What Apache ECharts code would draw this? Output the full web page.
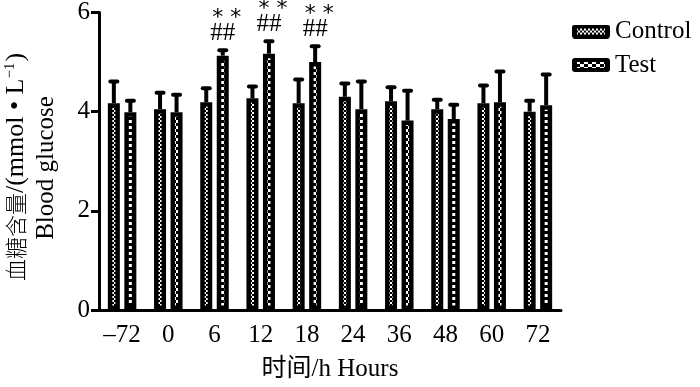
<!DOCTYPE html>
<html>
<head>
<meta charset="utf-8">
<script src="https://cdn.jsdelivr.net/npm/echarts@6/dist/echarts.min.js"></script>
<style>html,body{margin:0;padding:0;background:#fff;overflow:hidden}#c{width:700px;height:387px}</style>
</head>
<body>
<div id="c"></div>
<script>
const categories = ['–72', '0', '6', '12', '18', '24', '36', '48', '60', '72'];
const controlMean  = [4.17, 4.05, 4.19, 4.27, 4.17, 4.30, 4.21, 4.05, 4.17, 4.00];
const controlUpper = [4.61, 4.38, 4.47, 4.51, 4.65, 4.57, 4.49, 4.24, 4.53, 4.22];
const testMean  = [3.99, 3.99, 5.13, 5.17, 5.00, 4.05, 3.82, 3.85, 4.19, 4.13];
const testUpper = [4.22, 4.34, 5.24, 5.42, 5.32, 4.61, 4.42, 4.14, 4.81, 4.75];
const testHash  = ['', '', '##', '##', '##', '', '', '', '', ''];
const testStars = ['', '', '* *', '* *', '* *', '', '', '', '', ''];
const yTicks = [0, 2, 4, 6];

const BAR_W = 12, BAR_GAP = 0.375, BORDER = 4.5;
const OFFSET = BAR_W * (1 + BAR_GAP) / 2;
const FONT = '"Liberation Serif", "Times New Roman", "Noto Sans CJK SC", serif';

function makePattern(w, h, rects) {
  const cv = document.createElement('canvas');
  cv.width = w; cv.height = h;
  const ctx = cv.getContext('2d');
  ctx.fillStyle = '#000'; ctx.fillRect(0, 0, w, h);
  ctx.fillStyle = '#fff';
  rects.forEach(r => ctx.fillRect(r[0], r[1], r[2], r[3]));
  return cv;
}
const controlRects = [[0,0,2,2],[2,2,2,2]];
const testRects = [[0,0,4,3],[4,3,4,3]];
const controlPat = makePattern(4, 4, controlRects);
const testPat = makePattern(8, 6, testRects);

function legendIcon(pat) {
  const cv = document.createElement('canvas');
  cv.width = 38; cv.height = 14;
  const ctx = cv.getContext('2d');
  ctx.fillStyle = '#000';
  ctx.beginPath();
  if (ctx.roundRect) { ctx.roundRect(0, 0, 38, 14, 3); } else { ctx.rect(0, 0, 38, 14); }
  ctx.fill();
  ctx.save();
  ctx.beginPath(); ctx.rect(5, 4, 28, 6); ctx.clip();
  ctx.fillStyle = ctx.createPattern(pat, 'repeat');
  ctx.fillRect(5, 4, 28, 6);
  ctx.restore();
  return 'image://' + cv.toDataURL();
}

function errSeries(name, mean, upper, dir, hash, stars) {
  return {
    type: 'custom', name: name + '_err', z: 5, silent: true,
    data: categories.map((c, i) => [i, mean[i], upper[i]]),
    renderItem: function (params, api) {
      const i = api.value(0);
      const p0 = api.coord([i, api.value(1)]);
      const p1 = api.coord([i, api.value(2)]);
      const x = p0[0] + dir * OFFSET;
      const children = [
        { type: 'line', shape: { x1: x, y1: p0[1], x2: x, y2: p1[1] },
          style: { stroke: '#000', lineWidth: 4 } },
        { type: 'line', shape: { x1: x - 3.5, y1: p1[1], x2: x + 3.5, y2: p1[1] },
          style: { stroke: '#000', lineWidth: 4, lineCap: 'round' } }
      ];
      if (hash && hash[params.dataIndex]) {
        children.push({ type: 'text', style: { text: hash[params.dataIndex], x: x, y: p1[1] - 4,
          align: 'center', verticalAlign: 'bottom', font: '25px ' + FONT, fill: '#000' } });
        children.push({ type: 'text', style: { text: stars[params.dataIndex], x: x + 4, y: p1[1] - 21,
          align: 'center', verticalAlign: 'bottom', font: '22px "DejaVu Sans", sans-serif', fill: '#000' } });
      }
      return { type: 'group', children: children };
    }
  };
}

const chart = echarts.init(document.getElementById('c'), null, { renderer: 'canvas', width: 700, height: 387 });
chart.setOption({
  animation: false,
  backgroundColor: '#fff',
  grid: { left: 99, width: 462, top: 10, height: 305, containLabel: false },
  legend: {
    left: 567, top: 14, orient: 'vertical', itemWidth: 38, itemHeight: 14, itemGap: 8.5,
    data: [{ name: 'Control', icon: legendIcon(controlPat) }, { name: 'Test', icon: legendIcon(testPat) }],
    textStyle: { fontFamily: FONT, fontSize: 25, color: '#000' }
  },
  xAxis: {
    type: 'category', data: categories,
    name: '时间/h Hours', nameLocation: 'middle', nameGap: 47,
    nameTextStyle: { fontFamily: FONT, fontSize: 25, color: '#000' },
    axisLine: { lineStyle: { color: '#000', width: 3 } },
    axisTick: { alignWithLabel: true, length: 8, lineStyle: { color: '#000', width: 3 } },
    axisLabel: { interval: 0, fontFamily: FONT, fontSize: 25, color: '#000', margin: 13 }
  },
  yAxis: {
    type: 'value', min: yTicks[0], max: yTicks[yTicks.length - 1], interval: 2,
    axisLine: { show: true, lineStyle: { color: '#000', width: 3 } },
    axisTick: { show: true, length: 8, lineStyle: { color: '#000', width: 3 } },
    splitLine: { show: false },
    axisLabel: { fontFamily: FONT, fontSize: 25, color: '#000', margin: 9 }
  },
  graphic: [
    { type: 'text', x: 16, y: 167, rotation: Math.PI / 2,
      style: { text: '{cn|血糖含量}{en|/(mmol • L}{sup|−1}{en|)}', align: 'center', verticalAlign: 'middle',
        rich: {
          cn: { fontFamily: '"Noto Sans CJK SC", sans-serif', fontSize: 22, fill: '#000', fontWeight: 300 },
          en: { fontFamily: FONT, fontSize: 26, fill: '#000' },
          sup: { fontFamily: FONT, fontSize: 15, fill: '#000', verticalAlign: 'top', padding: [0, 1, 8, 0] }
        } } },
    { type: 'text', x: 46, y: 168, rotation: Math.PI / 2,
      style: { text: 'Blood glucose', font: '25px ' + FONT, fill: '#000', align: 'center', verticalAlign: 'middle' } }
  ],
  series: [
    { name: 'Control', type: 'bar', data: controlMean, barWidth: BAR_W, barGap: (BAR_GAP * 100) + '%',
      itemStyle: { color: { image: controlPat, repeat: 'repeat' }, borderColor: '#000', borderWidth: BORDER } },
    { name: 'Test', type: 'bar', data: testMean, barWidth: BAR_W,
      itemStyle: { color: { image: testPat, repeat: 'repeat' }, borderColor: '#000', borderWidth: BORDER } },
    errSeries('Control', controlMean, controlUpper, -1),
    errSeries('Test', testMean, testUpper, 1, testHash, testStars)
  ]
});
</script>
</body>
</html>
